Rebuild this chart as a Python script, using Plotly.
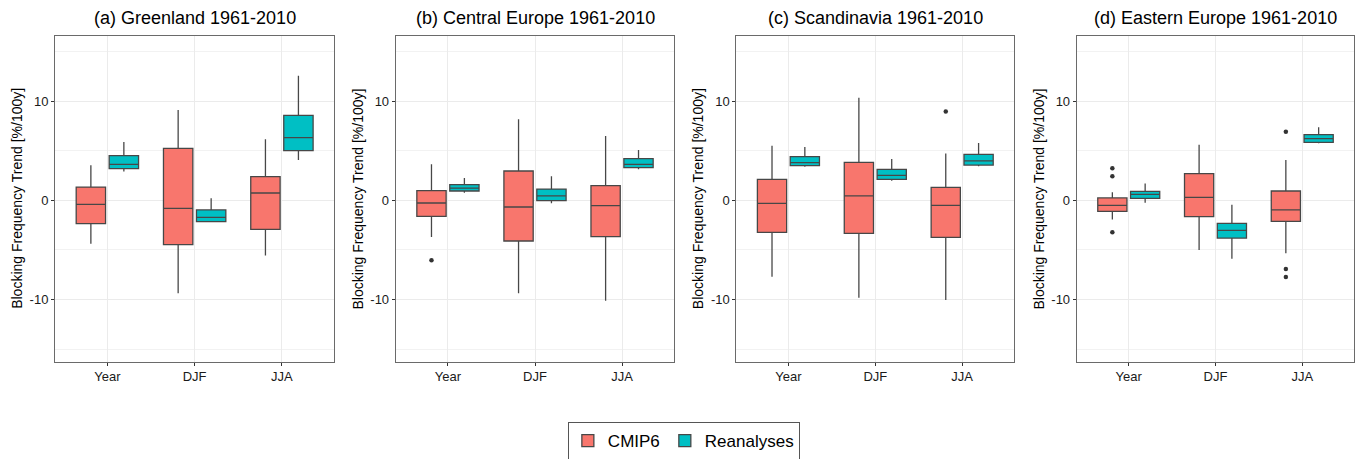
import plotly.graph_objects as go

categories = ["Year", "DJF", "JJA"]
panel_titles = [
    "(a) Greenland 1961-2010",
    "(b) Central Europe 1961-2010",
    "(c) Scandinavia 1961-2010",
    "(d) Eastern Europe 1961-2010",
]
y_title = "Blocking Frequency Trend [%/100y]"
series_names = ["CMIP6", "Reanalyses"]

# CMIP6 box statistics per panel: [Year, DJF, JJA]
cmip6_lower = [[-4.37, -9.38, -5.55], [-3.70, -9.38, -10.12], [-7.70, -9.82, -10.05], [-1.92, -5.01, -5.34]]
cmip6_q1 = [[-2.35, -4.47, -2.92], [-1.61, -4.10, -3.66], [-3.23, -3.33, -3.73], [-1.11, -1.65, -2.12]]
cmip6_median = [[-0.40, -0.81, 0.74], [-0.27, -0.67, -0.54], [-0.30, 0.44, -0.50], [-0.50, 0.30, -0.97]]
cmip6_q3 = [[1.34, 5.24, 2.39], [0.97, 2.96, 1.48], [2.12, 3.83, 1.31], [0.24, 2.69, 0.94]]
cmip6_upper = [[3.53, 9.11, 6.15], [3.63, 8.17, 6.49], [5.51, 10.35, 4.71], [0.81, 5.61, 4.07]]

# Reanalyses box statistics per panel: [Year, DJF, JJA]
rean_lower = [[2.92, -2.15, 4.07], [0.77, -0.30, 3.13], [3.39, 1.98, 3.43], [-0.24, -5.88, 5.75]]
rean_q1 = [[3.19, -2.15, 5.01], [0.94, -0.03, 3.29], [3.50, 2.12, 3.56], [0.20, -3.80, 5.85]]
rean_median = [[3.63, -1.71, 6.32], [1.24, 0.44, 3.63], [3.80, 2.52, 3.97], [0.61, -3.03, 6.22]]
rean_q3 = [[4.50, -0.97, 8.57], [1.58, 1.14, 4.20], [4.40, 3.13, 4.64], [0.91, -2.32, 6.62]]
rean_upper = [[5.88, 0.20, 12.57], [2.25, 2.42, 5.08], [5.38, 4.17, 5.78], [1.71, -0.44, 7.36]]

# CMIP6 outliers
outlier_panel = [1, 2, 3, 3, 3, 3, 3, 3]
outlier_cat = ["Year", "JJA", "Year", "Year", "Year", "JJA", "JJA", "JJA"]
outlier_val = [-6.05, 8.97, 3.23, 2.42, -3.23, 6.92, -6.92, -7.73]

colors = {"CMIP6": "#F8766D", "Reanalyses": "#00BFC4"}

W, H = 1365, 459
x_px = [(55.0, 334.3), (395.7, 674.3), (736.3, 1014.3), (1076.7, 1354.3)]
y_px = (36.0, 361.7)
y_range = [-16.27, 16.57]

FONT = "Liberation Sans, Arial, Helvetica, sans-serif"

fig = go.Figure()
stats = {
    "CMIP6": (cmip6_lower, cmip6_q1, cmip6_median, cmip6_q3, cmip6_upper),
    "Reanalyses": (rean_lower, rean_q1, rean_median, rean_q3, rean_upper),
}

for p in range(4):
    xa = "x" if p == 0 else f"x{p+1}"
    ya = "y" if p == 0 else f"y{p+1}"
    for name in series_names:
        lo, q1, med, q3, hi = stats[name]
        fig.add_trace(go.Box(
            x=categories,
            lowerfence=lo[p], q1=q1[p], median=med[p], q3=q3[p], upperfence=hi[p],
            name=name, legendgroup=name, showlegend=(p == 0),
            offsetgroup=name,
            fillcolor=colors[name],
            line=dict(color="#474747", width=1.3),
            whiskerwidth=0,
            boxpoints=False,
            xaxis=xa, yaxis=ya,
            hoverinfo="skip",
        ))
    # outliers (grouped next to their boxes)
    ox = [c for c, pp in zip(outlier_cat, outlier_panel) if pp == p]
    oy = [v for v, pp in zip(outlier_val, outlier_panel) if pp == p]
    if ox:
        fig.add_trace(go.Scatter(
            x=ox, y=oy, mode="markers", offsetgroup="CMIP6",
            marker=dict(color="#333333", size=4.5),
            showlegend=False, xaxis=xa, yaxis=ya, hoverinfo="skip",
        ))
        fig.add_trace(go.Scatter(
            x=categories, y=[None] * len(categories), mode="markers", offsetgroup="Reanalyses",
            marker=dict(color="#333333", size=4.5),
            showlegend=False, xaxis=xa, yaxis=ya, hoverinfo="skip",
        ))

layout = dict(
    width=W, height=H,
    margin=dict(l=0, r=0, t=0, b=0, autoexpand=False),
    paper_bgcolor="white", plot_bgcolor="white",
    boxmode="group", boxgap=0.244, boxgroupgap=0.11,
    scattermode="group", scattergap=0.244,
    font=dict(family=FONT, color="#000000"),
    showlegend=True,
    legend=dict(
        orientation="h", x=0.501, xanchor="center", y=1 - 422 / H, yanchor="top",
        bordercolor="#555555", borderwidth=1, bgcolor="white",
        font=dict(size=17, family=FONT, color="#000000"),
        itemwidth=30,
    ),
)

annotations = []
for p in range(4):
    xs = "xaxis" if p == 0 else f"xaxis{p+1}"
    ys = "yaxis" if p == 0 else f"yaxis{p+1}"
    x0, x1 = x_px[p]
    dom_x = [x0 / W, x1 / W]
    dom_y = [1 - y_px[1] / H, 1 - y_px[0] / H]
    anchor_y = "y" if p == 0 else f"y{p+1}"
    anchor_x = "x" if p == 0 else f"x{p+1}"
    layout[xs] = dict(
        domain=dom_x, anchor=anchor_y, type="category",
        categoryorder="array", categoryarray=categories,
        range=[-0.6, 2.6],
        showgrid=True, gridcolor="#EBEBEB", gridwidth=1,
        showline=True, mirror=True, linecolor="#6a6a6a", linewidth=1,
        ticks="outside", ticklen=3, tickcolor="#333333", tickwidth=1,
        tickfont=dict(size=13, color="#1a1a1a", family=FONT),
        zeroline=False, fixedrange=True,
    )
    layout[ys] = dict(
        domain=dom_y, anchor=anchor_x,
        range=y_range, tickvals=[-10, 0, 10], ticktext=["-10", "0", "10"],
        showgrid=True, gridcolor="#EBEBEB", gridwidth=1,
        minor=dict(tickvals=[-15, -5, 5, 15], showgrid=True, gridcolor="#F2F2F2", gridwidth=0.6, ticks=""),
        showline=True, mirror=True, linecolor="#6a6a6a", linewidth=1,
        ticks="outside", ticklen=3, tickcolor="#333333", tickwidth=1,
        tickfont=dict(size=13, color="#1a1a1a", family=FONT),
        zeroline=False, fixedrange=True,
    )
    annotations.append(dict(
        text=panel_titles[p], xref="paper", yref="paper",
        x=(x0 + x1) / 2 / W, y=1 - 18 / H, xanchor="center", yanchor="middle",
        showarrow=False, font=dict(size=18, family=FONT, color="#000000"),
    ))
    annotations.append(dict(
        text=y_title, xref="paper", yref="paper",
        x=(x0 - 38) / W, y=1 - (y_px[0] + y_px[1]) / 2 / H, xanchor="center", yanchor="middle",
        textangle=-90, showarrow=False, font=dict(size=14, family=FONT, color="#000000"),
    ))
layout["annotations"] = annotations

fig.update_layout(**layout)
fig.write_html(
    "out.html",
    config={"displayModeBar": False},
    post_script="document.body.style.margin='0px';document.body.style.overflow='hidden';",
)
